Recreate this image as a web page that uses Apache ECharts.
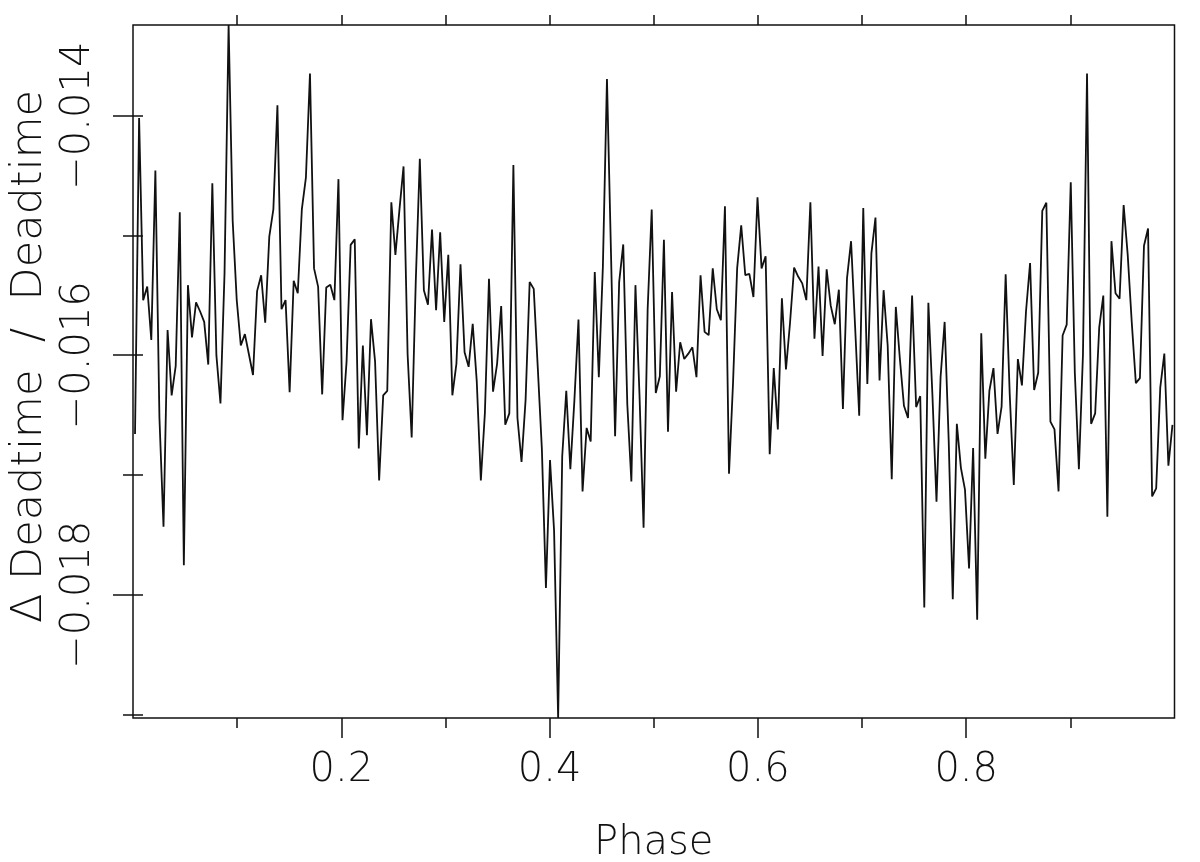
<!DOCTYPE html>
<html>
<head>
<meta charset="utf-8">
<script src="https://cdn.jsdelivr.net/npm/echarts@6/dist/echarts.min.js"></script>
<style>
html,body{margin:0;padding:0;background:#fff;}
#chart{width:1200px;height:862px;}
</style>
</head>
<body>
<div id="chart"></div>
<script>
// Δ Deadtime / Deadtime per phase bin (256 bins)
const deadtimeRatio = [
-0.016657,-0.014019,-0.015540,-0.015427,-0.015873,-0.014458,-0.016524,-0.017432,-0.015790,-0.016335,
-0.016089,-0.014806,-0.017754,-0.015415,-0.015851,-0.015559,-0.015635,-0.015722,-0.016078,-0.014564,
-0.016002,-0.016403,-0.015313,-0.013243,-0.014878,-0.015540,-0.015919,-0.015824,-0.015994,-0.016165,
-0.015465,-0.015332,-0.015729,-0.015010,-0.014783,-0.013913,-0.015616,-0.015540,-0.016308,-0.015378,
-0.015483,-0.014783,-0.014518,-0.013648,-0.015275,-0.015427,-0.016327,-0.015434,-0.015412,-0.015540,
-0.014530,-0.016543,-0.016051,-0.015079,-0.015033,-0.016778,-0.015919,-0.016668,-0.015699,-0.016051,
-0.017046,-0.016335,-0.016297,-0.014723,-0.015162,-0.014783,-0.014424,-0.015994,-0.016687,-0.015389,
-0.014360,-0.015457,-0.015578,-0.014950,-0.015624,-0.014973,-0.015722,-0.015162,-0.016335,-0.016070,
-0.015241,-0.015975,-0.016097,-0.015737,-0.016221,-0.017046,-0.016479,-0.015362,-0.016305,-0.016070,
-0.015589,-0.016581,-0.016486,-0.014413,-0.016524,-0.016891,-0.016373,-0.015389,-0.015446,-0.016108,
-0.016782,-0.017943,-0.016876,-0.017463,-0.019029,-0.016846,-0.016297,-0.016952,-0.016373,-0.015703,
-0.017137,-0.016607,-0.016721,-0.015306,-0.016184,-0.015256,-0.013693,-0.015162,-0.016676,-0.015389,
-0.015075,-0.016411,-0.017054,-0.015415,-0.016335,-0.017440,-0.015616,-0.014783,-0.016316,-0.016176,
-0.015037,-0.016638,-0.015472,-0.016305,-0.015892,-0.016032,-0.015987,-0.015934,-0.016184,-0.015332,
-0.015805,-0.015832,-0.015275,-0.015616,-0.015707,-0.014757,-0.016990,-0.016221,-0.015275,-0.014916,
-0.015332,-0.015321,-0.015514,-0.014681,-0.015275,-0.015173,-0.016827,-0.016108,-0.016619,-0.015525,
-0.016119,-0.015729,-0.015268,-0.015343,-0.015400,-0.015540,-0.014723,-0.015862,-0.015260,-0.016006,
-0.015283,-0.015586,-0.015741,-0.015453,-0.016448,-0.015359,-0.015048,-0.015767,-0.016505,-0.014772,
-0.016240,-0.015150,-0.014851,-0.016210,-0.015457,-0.015919,-0.017035,-0.015597,-0.016032,-0.016422,
-0.016524,-0.015502,-0.016433,-0.016342,-0.018106,-0.015563,-0.016335,-0.017224,-0.016184,-0.015722,
-0.016713,-0.018038,-0.016573,-0.016940,-0.017122,-0.017781,-0.016774,-0.018208,-0.015817,-0.016865,
-0.016297,-0.016108,-0.016657,-0.016430,-0.015325,-0.016327,-0.017084,-0.016032,-0.016252,-0.015635,
-0.015230,-0.016290,-0.016146,-0.014795,-0.014727,-0.016554,-0.016619,-0.017137,-0.015835,-0.015745,
-0.014556,-0.016146,-0.016952,-0.015994,-0.013648,-0.016573,-0.016486,-0.015767,-0.015502,-0.017349,
-0.015048,-0.015483,-0.015529,-0.014746,-0.015162,-0.015729,-0.016233,-0.016191,-0.015086,-0.014942,
-0.017179,-0.017111,-0.016271,-0.015987,-0.016922,-0.016581
];
// phase bin centres
const phase = deadtimeRatio.map((_, i) => (i + 0.5) / deadtimeRatio.length);

const xMajorTicks = [0.2, 0.4, 0.6, 0.8];
const xMajorLabels = ['0.2', '0.4', '0.6', '0.8'];
const xMinorTicks = [0.1, 0.3, 0.5, 0.7, 0.9];
const xTopTicks = [0.1, 0.2, 0.3, 0.4, 0.5, 0.6, 0.7, 0.8, 0.9];
const yMajorTicks = [-0.018, -0.016, -0.014];
const yMajorLabels = ['\u22120.018', '\u22120.016', '\u22120.014'];
const yMinorTicks = [-0.019, -0.017, -0.015];
const yRightTicks = [-0.019, -0.018, -0.017, -0.016, -0.015, -0.014];

const xMin = 0, xMax = 1;
const yMin = -0.019029, yMax = -0.013243;

const FONT = "'DejaVu Sans', sans-serif";
const INK = '#111';
const tickStyle = { color: INK, width: 1.5 };

function xAxisBase(position, ticks, len) {
  return {
    type: 'value', position: position, min: xMin, max: xMax,
    axisLine: { show: false }, splitLine: { show: false },
    axisTick: { show: true, inside: false, length: len, customValues: ticks, lineStyle: tickStyle },
    axisLabel: { show: false }
  };
}
function yAxisBase(position, ticks, len) {
  return {
    type: 'value', position: position, min: yMin, max: yMax,
    axisLine: { show: false }, splitLine: { show: false },
    axisTick: { show: true, inside: false, length: len, customValues: ticks, lineStyle: tickStyle },
    axisLabel: { show: false }
  };
}

const xMain = xAxisBase('bottom', xMajorTicks, 20);
xMain.axisLabel = {
  show: true, customValues: xMajorTicks, margin: 33,
  fontFamily: FONT, fontSize: 40, fontWeight: 300, color: INK,
  formatter: v => xMajorLabels[xMajorTicks.findIndex(t => Math.abs(t - v) < 1e-9)]
};
xMain.name = 'Phase';
xMain.nameLocation = 'middle';
xMain.nameGap = 106;
xMain.nameTextStyle = { fontFamily: FONT, fontSize: 40, fontWeight: 300, color: INK };

const yMain = yAxisBase('left', yMajorTicks, 20);
yMain.axisLabel = {
  show: true, customValues: yMajorTicks, margin: 34, rotate: 90,
  fontFamily: FONT, fontSize: 40, fontWeight: 300, color: INK,
  formatter: v => yMajorLabels[yMajorTicks.findIndex(t => Math.abs(t - v) < 1e-9)]
};
yMain.name = '\u0394 Deadtime  /  Deadtime';
yMain.nameLocation = 'middle';
yMain.nameRotate = 90;
yMain.nameGap = 78;
yMain.nameTextStyle = { fontFamily: FONT, fontSize: 43, fontWeight: 300, color: INK, padding: [0, 0, 0, 30] };

const chart = echarts.init(document.getElementById('chart'), null, { renderer: 'canvas' });
chart.setOption({
  animation: false,
  backgroundColor: '#fff',
  grid: {
    left: 133, right: 25.5, top: 25, bottom: 144,
    containLabel: false, outerBoundsMode: 'none',
    show: true, borderColor: INK, borderWidth: 1.5, backgroundColor: 'transparent'
  },
  xAxis: [
    xMain,
    xAxisBase('bottom', xMinorTicks, 10),
    xAxisBase('top', xTopTicks, 10)
  ],
  yAxis: [
    yMain,
    yAxisBase('left', yMinorTicks, 10),
    yAxisBase('right', yRightTicks, 10)
  ],
  series: [{
    type: 'line',
    xAxisIndex: 0, yAxisIndex: 0,
    data: phase.map((p, i) => [p, deadtimeRatio[i]]),
    showSymbol: false, symbol: 'none',
    lineStyle: { color: INK, width: 1.8 },
    clip: false
  }]
});
</script>
</body>
</html>
